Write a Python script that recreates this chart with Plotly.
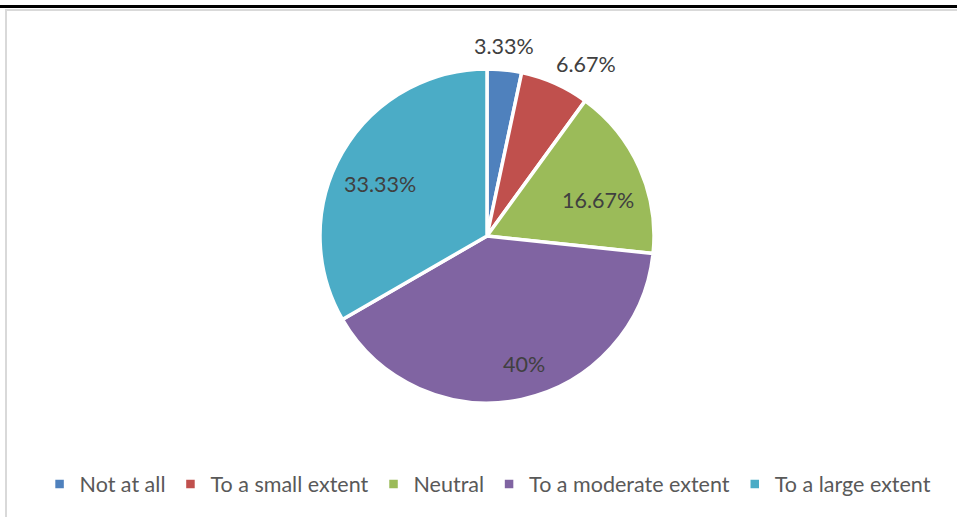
import math
import plotly.graph_objects as go

# Survey response shares
categories = ["Not at all", "To a small extent", "Neutral", "To a moderate extent", "To a large extent"]
shares = [3.33, 6.67, 16.67, 40, 33.33]
colors = ["#4F81BD", "#C0504D", "#9BBB59", "#8064A2", "#4BACC6"]

# label placement: radial distance (fraction of radius) and angular nudge (degrees)
label_radius = [1.14, 1.19, 0.70, 0.80, 0.71]
label_nudge = [-1, 6, 6, -4, -4]

W, H = 957, 517
cx, cy, r = 487, 236, 167

fig = go.Figure(go.Pie(
    labels=categories,
    values=shares,
    textinfo="none",
    sort=False,
    direction="clockwise",
    rotation=0,
    marker=dict(colors=colors, line=dict(color="white", width=3.5)),
    domain=dict(x=[(cx - r) / W, (cx + r) / W], y=[1 - (cy + r) / H, 1 - (cy - r) / H]),
    showlegend=True,
    hoverinfo="label+percent",
))

# value labels placed around each slice's mid-angle (clockwise from 12 o'clock)
total = sum(shares)
annotations = []
cum = 0.0
for v, rf, nd in zip(shares, label_radius, label_nudge):
    mid = (cum + v / 2) / total * 360 + nd
    cum += v
    a = math.radians(mid)
    px = cx + rf * r * math.sin(a)
    py = cy - rf * r * math.cos(a)
    annotations.append(dict(
        x=px / W, y=1 - py / H, xref="paper", yref="paper",
        xanchor="center", yanchor="middle", showarrow=False,
        text=f"{v:g}%",
        font=dict(family="Lato", size=21.5, color="#404040"),
    ))

# frame lines around the chart area
shapes = [
    dict(type="line", xref="paper", yref="paper", x0=0, x1=1, y0=1 - 6.5 / H, y1=1 - 6.5 / H,
         line=dict(color="black", width=3)),
    dict(type="line", xref="paper", yref="paper", x0=5 / W, x1=1, y0=1 - 10 / H, y1=1 - 10 / H,
         line=dict(color="#d9d9d9", width=2)),
    dict(type="line", xref="paper", yref="paper", x0=6 / W, x1=6 / W, y0=0, y1=1 - 9 / H,
         line=dict(color="#d9d9d9", width=2)),
]

fig.update_layout(
    width=W, height=H,
    margin=dict(l=0, r=0, t=0, b=0),
    paper_bgcolor="white",
    plot_bgcolor="white",
    shapes=shapes,
    annotations=annotations,
    legend=dict(
        orientation="h",
        x=0.51, xanchor="center",
        y=1 - 484 / H, yanchor="middle",
        font=dict(family="Lato", size=21.5, color="#595959"),
        itemwidth=30,
        traceorder="normal",
    ),
)

fig.write_html("out.html")
